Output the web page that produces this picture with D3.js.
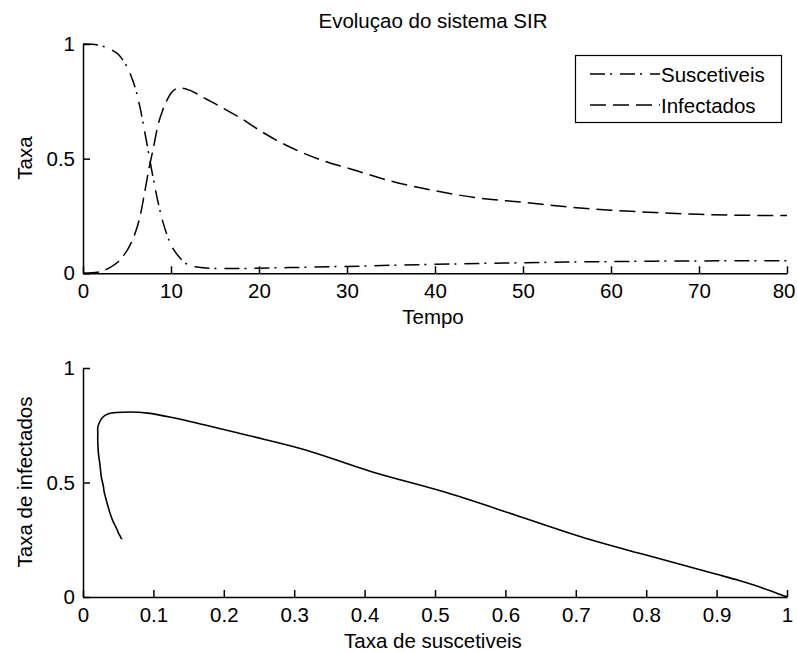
<!DOCTYPE html>
<html>
<head>
<meta charset="utf-8">
<script src="https://cdn.jsdelivr.net/npm/d3@7"></script>
<style>
  html, body { margin: 0; padding: 0; background: #fff; }
  svg { display: block; }
  text { font-family: "Liberation Sans", Arial, sans-serif; fill: #000; }
</style>
</head>
<body>
<script>
// ---- data ----
const tempo = [0,1,2,3,4,4.5,5,5.5,6,6.5,7,7.5,8,8.5,9,9.5,10,10.5,11,12,13,14,15,16,18,20,22,25,28,30,35,40,45,50,55,60,65,70,75,80];
const suscetiveis = [1.000,0.999,0.993,0.979,0.955,0.932,0.900,0.857,0.800,0.720,0.620,0.515,0.410,0.315,0.235,0.172,0.125,0.092,0.068,0.036,0.027,0.023,0.021,0.021,0.021,0.022,0.024,0.026,0.029,0.030,0.035,0.039,0.043,0.046,0.049,0.051,0.053,0.054,0.055,0.055];
const infectados = [0.001,0.002,0.008,0.024,0.050,0.072,0.099,0.135,0.183,0.251,0.352,0.457,0.547,0.643,0.705,0.752,0.785,0.803,0.808,0.800,0.782,0.760,0.740,0.718,0.675,0.625,0.580,0.525,0.482,0.460,0.402,0.360,0.328,0.310,0.290,0.275,0.265,0.257,0.253,0.252];

const seriesNames = ["Suscetiveis", "Infectados"];
const topXTicks = [0,10,20,30,40,50,60,70,80];
const yTicks = [0, 0.5, 1];
const botXTicks = [0,0.1,0.2,0.3,0.4,0.5,0.6,0.7,0.8,0.9,1];

const titleText = "Evoluçao do sistema SIR";
const topXLabel = "Tempo", topYLabel = "Taxa";
const botXLabel = "Taxa de suscetiveis", botYLabel = "Taxa de infectados";

// ---- layout ----
const W = 797, H = 653;
const FS = 20.5;
const left = 83, right = 787;
const topPlot = { y0: 273.3, y1: 44 };
const botPlot = { y0: 597, y1: 368 };
const dashDot = "15,5,2,8";
const dashed = "16,7";

const svg = d3.select("body").append("svg").attr("width", W).attr("height", H);
svg.append("rect").attr("width", W).attr("height", H).attr("fill", "#fff");

function fmt(d) { return d3.format("~g")(d); }

function drawAxes(g, x, y, xTicks) {
  const xa = g.append("g").attr("transform", `translate(0,${y.range()[0]})`)
    .call(d3.axisBottom(x).tickValues(xTicks).tickFormat(fmt).tickSizeInner(-7).tickSizeOuter(0).tickPadding(10));
  const ya = g.append("g").attr("transform", `translate(${x.range()[0]},0)`)
    .call(d3.axisLeft(y).tickValues(yTicks).tickFormat(fmt).tickSizeInner(-7).tickSizeOuter(0).tickPadding(8));
  [xa, ya].forEach(a => {
    a.select(".domain").attr("stroke", "#000").attr("stroke-width", 1.5);
    a.selectAll(".tick line").attr("stroke", "#000").attr("stroke-width", 1.5);
    a.selectAll(".tick text").attr("font-size", FS).attr("font-family", "Liberation Sans, Arial, sans-serif").attr("fill", "#000");
  });
  // keep the last label inside the window
  xa.selectAll(".tick text").filter(d => d === xTicks[xTicks.length - 1])
    .attr("text-anchor", "end").attr("dx", function () {
      const w = this.getComputedTextLength();
      return Math.min(w / 2, W - 2 - x(xTicks[xTicks.length - 1]));
    });
}

// ---- top plot ----
const xT = d3.scaleLinear().domain([0, 80]).range([left, right]);
const yT = d3.scaleLinear().domain([0, 1]).range([topPlot.y0, topPlot.y1]);
const gT = svg.append("g");

const rows = tempo.map((t, i) => ({ t, s: suscetiveis[i], inf: infectados[i] }));

gT.append("path").datum(rows)
  .attr("fill", "none").attr("stroke", "#000").attr("stroke-width", 1.5)
  .attr("stroke-dasharray", dashDot)
  .attr("d", d3.line().x(d => xT(d.t)).y(d => yT(d.s)).curve(d3.curveMonotoneX));
gT.append("path").datum(rows)
  .attr("fill", "none").attr("stroke", "#000").attr("stroke-width", 1.5)
  .attr("stroke-dasharray", dashed)
  .attr("d", d3.line().x(d => xT(d.t)).y(d => yT(d.inf)).curve(d3.curveMonotoneX));

drawAxes(gT, xT, yT, topXTicks);

svg.append("text").attr("x", 433).attr("y", 28).attr("text-anchor", "middle")
  .attr("font-size", FS).text(titleText);
svg.append("text").attr("x", 433).attr("y", 324).attr("text-anchor", "middle")
  .attr("font-size", FS).text(topXLabel);
svg.append("text").attr("transform", "translate(32,158) rotate(-90)").attr("text-anchor", "middle")
  .attr("font-size", FS).text(topYLabel);

// legend
const lg = svg.append("g");
lg.append("rect").attr("x", 575.5).attr("y", 55.5).attr("width", 206).attr("height", 67)
  .attr("fill", "#fff").attr("stroke", "#000").attr("stroke-width", 1.2);
const legendRows = [
  { name: seriesNames[0], dash: dashDot, ly: 74, ty: 82 },
  { name: seriesNames[1], dash: dashed, ly: 105, ty: 113 }
];
legendRows.forEach(r => {
  lg.append("line").attr("x1", 590).attr("x2", 660).attr("y1", r.ly).attr("y2", r.ly)
    .attr("stroke", "#000").attr("stroke-width", 1.5).attr("stroke-dasharray", r.dash);
  lg.append("text").attr("x", 661).attr("y", r.ty).attr("font-size", FS).text(r.name);
});

// ---- bottom plot (phase) ----
const xB = d3.scaleLinear().domain([0, 1]).range([left, right]);
const yB = d3.scaleLinear().domain([0, 1]).range([botPlot.y0, botPlot.y1]);
const gB = svg.append("g");
gB.append("path").datum(rows)
  .attr("fill", "none").attr("stroke", "#000").attr("stroke-width", 1.6)
  .attr("d", d3.line().x(d => xB(d.s)).y(d => yB(d.inf)).curve(d3.curveCatmullRom.alpha(0.5)));
drawAxes(gB, xB, yB, botXTicks);

svg.append("text").attr("x", 433).attr("y", 648).attr("text-anchor", "middle")
  .attr("font-size", FS).text(botXLabel);
svg.append("text").attr("transform", "translate(32,482) rotate(-90)").attr("text-anchor", "middle")
  .attr("font-size", FS).text(botYLabel);
</script>
</body>
</html>
